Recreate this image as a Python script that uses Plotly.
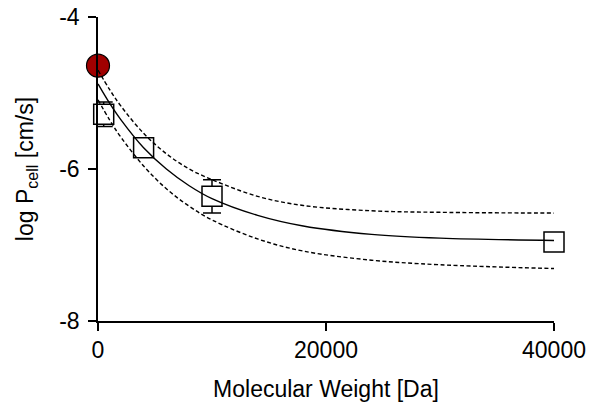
import plotly.graph_objects as go

# Measured data
mw_sq = [500, 4000, 10000, 40000]
logp_sq = [-5.28, -5.72, -6.36, -6.96]
err_sq = [0.16, 0.0, 0.22, 0.0]

mw_red = [0]
logp_red = [-4.64]

# Fitted curve and confidence band
mw_fit = [0, 1000, 2000, 4000, 6000, 8000, 10000, 14000, 18000, 24000, 30000, 40000]
fit_mid = [-4.88, -5.13, -5.35, -5.72, -6.00, -6.22, -6.39, -6.61, -6.75, -6.86, -6.91, -6.94]
fit_upper = [-4.70, -4.95, -5.17, -5.53, -5.80, -6.00, -6.14, -6.36, -6.48, -6.55, -6.57, -6.58]
fit_lower = [-5.09, -5.35, -5.58, -5.96, -6.26, -6.49, -6.67, -6.92, -7.08, -7.20, -7.26, -7.31]

x_ticks = [0, 20000, 40000]
y_ticks = [-8, -6, -4]

FONT = "Liberation Sans, Arial, sans-serif"

fig = go.Figure()

fig.add_trace(go.Scatter(
    x=mw_sq, y=logp_sq, mode="markers",
    marker=dict(symbol="square", size=20, color="white",
                line=dict(color="black", width=1.5)),
    error_y=dict(type="data", array=err_sq, visible=True,
                 color="black", thickness=1.5, width=9),
    cliponaxis=False, showlegend=False))

fig.add_trace(go.Scatter(
    x=mw_red, y=logp_red, mode="markers",
    marker=dict(symbol="circle", size=23, color="#a00000",
                line=dict(color="black", width=1.2)),
    cliponaxis=False, showlegend=False))

for ys, dash in [(fit_upper, "4px,2.5px"), (fit_lower, "4px,2.5px"), (fit_mid, "solid")]:
    fig.add_trace(go.Scatter(
        x=mw_fit, y=ys, mode="lines",
        line=dict(color="black", width=1.4, dash=dash, shape="spline", smoothing=1.0),
        cliponaxis=False, showlegend=False))

axis_common = dict(
    showgrid=False, zeroline=False, showline=True, linecolor="black",
    linewidth=1.5, ticks="outside", ticklen=8, tickwidth=1.5, tickcolor="black",
    tickfont=dict(family=FONT, size=23, color="black"), automargin=False,
)

fig.update_layout(
    width=590, height=409,
    margin=dict(l=98, r=36, t=17, b=88),
    paper_bgcolor="white", plot_bgcolor="white",
    font=dict(family=FONT, color="black"),
    xaxis=dict(range=[0, 40000], tickvals=x_ticks, ticktext=[str(v) for v in x_ticks],
               title=dict(text="Molecular Weight [Da]", font=dict(family=FONT, size=23), standoff=19),
               **axis_common),
    yaxis=dict(range=[-8, -4], tickvals=y_ticks, ticktext=[str(v) for v in y_ticks],
               ticklabelstandoff=4,
               title=dict(text="log P<sub>cell</sub> [cm/s]", font=dict(family=FONT, size=23), standoff=19),
               **axis_common),
)

# remove the default page margin so the 590x409 figure fills the window exactly
fig.write_html(
    "out.html",
    config={"displayModeBar": False},
    post_script="document.body.style.margin='0';document.body.style.padding='0';"
                "document.documentElement.style.overflow='hidden';document.body.style.overflow='hidden';",
)
